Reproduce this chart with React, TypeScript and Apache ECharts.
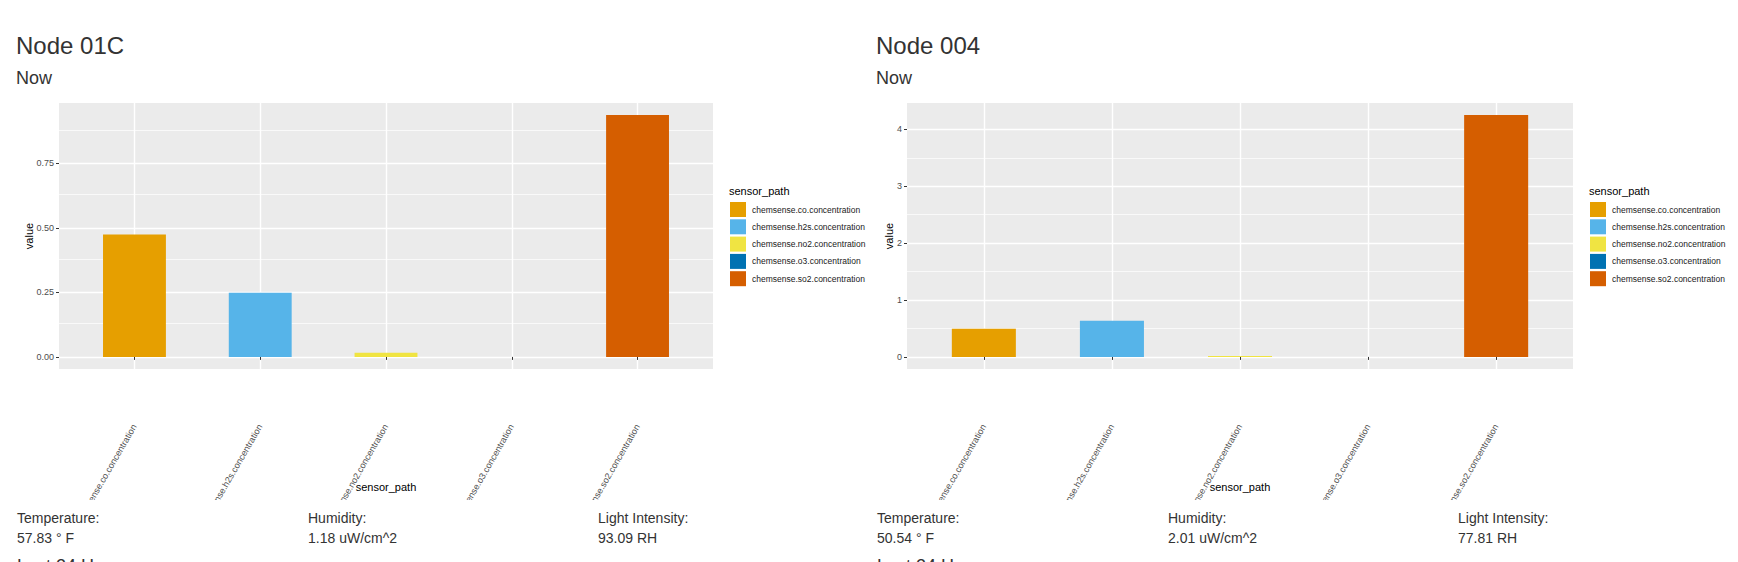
import React, { useEffect, useRef } from 'react';
import * as echarts from 'echarts';

const FONT = '"Liberation Sans", Arial, Helvetica, sans-serif';

const sensorPaths = [
    'chemsense.co.concentration',
    'chemsense.h2s.concentration',
    'chemsense.no2.concentration',
    'chemsense.o3.concentration',
    'chemsense.so2.concentration',
];
const sensorColors = ['#E69F00', '#56B4E9', '#F0E442', '#0072B2', '#D55E00'];

// Node 01C
const node01cValues = [0.474, 0.249, 0.016, 0, 0.937];
const node01cTicks = [0, 0.25, 0.5, 0.75];
const node01cMinorTicks = [0.125, 0.375, 0.625, 0.875];
const node01cReadings = ['57.83 ° F', '1.18 uW/cm^2', '93.09 RH'];

// Node 004
const node004Values = [0.494, 0.635, 0.018, 0, 4.25];
const node004Ticks = [0, 1, 2, 3, 4];
const node004MinorTicks = [0.5, 1.5, 2.5, 3.5];
const node004Readings = ['50.54 ° F', '2.01 uW/cm^2', '77.81 RH'];

const readingLabels = ['Temperature:', 'Humidity:', 'Light Intensity:'];

interface NodeChartProps {
    name: string;
    values: number[];
    ticks: number[];
    minorTicks: number[];
    decimals: number;
    left: number;
    width: number;
    titleLeft: number;
    gridLeft: number;
    gridWidth: number;
    legendLeft: number;
    valueGap: number;
}

function NodeChart(props: NodeChartProps) {
    const chartRef = useRef<HTMLDivElement | null>(null);

    useEffect(() => {
        if (!chartRef.current) return;
        const chart = echarts.init(chartRef.current, null, { renderer: 'svg' });

        const { values, ticks, minorTicks, decimals } = props;
        const top = Math.max(...values);
        // ggplot default expansion: 5% on each side
        const lo = -0.05 * top;
        const hi = 1.05 * top;
        const step = ticks[1] - ticks[0];
        const xTicks = sensorPaths.map((_, i) => i + 1);

        chart.setOption({
            animation: false,
            textStyle: { fontFamily: FONT },
            title: [
                {
                    text: props.name, left: props.titleLeft, top: 33, padding: 0,
                    textStyle: { fontSize: 24, fontWeight: 'normal', color: '#333', lineHeight: 24 },
                },
                {
                    text: 'Now', left: props.titleLeft, top: 69, padding: 0,
                    textStyle: { fontSize: 18, fontWeight: 'normal', color: '#333', lineHeight: 18 },
                },
                {
                    text: 'sensor_path', left: props.legendLeft - 1, top: 184, padding: 0,
                    textStyle: { fontSize: 11, fontWeight: 'normal', color: '#000', lineHeight: 13 },
                },
            ],
            grid: {
                left: props.gridLeft, top: 103, width: props.gridWidth, height: 266,
                show: true, backgroundColor: '#EBEBEB', borderWidth: 0,
                containLabel: false, outerBoundsMode: 'none',
            },
            legend: {
                orient: 'vertical', left: props.legendLeft, top: 202, padding: 0,
                itemWidth: 16, itemHeight: 15, itemGap: 2.3, icon: 'rect',
                selectedMode: false,
                textStyle: { fontSize: 8.5, color: '#1A1A1A', padding: [0, 0, 0, 1] },
                data: sensorPaths,
            },
            xAxis: {
                type: 'value',
                min: 0.4,
                max: 5.6,
                minInterval: 1,
                maxInterval: 1,
                axisLine: { show: false },
                axisTick: { show: true, length: 3, customValues: xTicks, lineStyle: { color: '#333', width: 1 } },
                axisLabel: {
                    customValues: xTicks, rotate: 60, margin: 56, fontSize: 9, color: '#4D4D4D',
                    formatter: (v: number) => sensorPaths[Math.round(v) - 1] ?? '',
                },
                splitLine: { show: true, lineStyle: { color: '#FFFFFF', width: 1.4 } },
                name: 'sensor_path',
                nameLocation: 'middle',
                nameGap: 112,
                nameMoveOverlap: false,
                nameTextStyle: { fontSize: 11, color: '#000' },
            },
            yAxis: {
                type: 'value',
                min: lo,
                max: hi,
                minInterval: step,
                maxInterval: step,
                axisLine: { show: false },
                axisTick: { show: true, length: 3, customValues: ticks, lineStyle: { color: '#333', width: 1 } },
                axisLabel: {
                    customValues: ticks, fontSize: 9, color: '#4D4D4D', margin: 5,
                    formatter: (v: number) => {
                        const k = v / step;
                        return Math.abs(k - Math.round(k)) < 1e-6 ? v.toFixed(decimals) : '';
                    },
                },
                splitLine: { show: true, lineStyle: { color: '#FFFFFF', width: 1.4 } },
                name: 'value',
                nameLocation: 'middle',
                nameRotate: 90,
                nameGap: props.valueGap,
                nameMoveOverlap: false,
                nameTextStyle: { fontSize: 11, color: '#000' },
            },
            series: sensorPaths.map((p, i) => ({
                type: 'bar',
                name: p,
                data: [[i + 1, values[i]]],
                barWidth: '50%',
                barGap: '-100%',
                itemStyle: { color: sensorColors[i] },
                markLine: i === 0 ? {
                    silent: true,
                    symbol: 'none',
                    z: 1,
                    label: { show: false },
                    lineStyle: { color: '#FFFFFF', width: 0.7, type: 'solid' },
                    emphasis: { disabled: true },
                    data: minorTicks.map(v => ({ yAxis: v })),
                } : undefined,
            })),
        });

        return () => {
            chart.dispose();
        };
    }, []);

    return (
        <div
            ref={chartRef}
            style={{ position: 'absolute', left: props.left, top: 0, width: props.width, height: 500, overflow: 'hidden' }}
        />
    );
}

function Readings({ left, readings }: { left: number[]; readings: string[] }) {
    return (
        <>
            {readingLabels.map((label, i) => (
                <div
                    key={label}
                    style={{ position: 'absolute', left: left[i], top: 508, fontSize: 14, lineHeight: '20px', color: '#333' }}
                >
                    <div>{label}</div>
                    <div>{readings[i]}</div>
                </div>
            ))}
            <div style={{ position: 'absolute', left: left[0], top: 556, fontSize: 18, lineHeight: '20px', color: '#333' }}>
                Last 24 Hours
            </div>
        </>
    );
}

export default function App() {
    return (
        <div
            style={{
                position: 'fixed', left: 0, top: 0, width: 1738, height: 562,
                background: '#fff', overflow: 'hidden', fontFamily: FONT,
            }}
        >
            <NodeChart
                name="Node 01C"
                values={node01cValues}
                ticks={node01cTicks}
                minorTicks={node01cMinorTicks}
                decimals={2}
                left={0}
                width={870}
                titleLeft={16}
                gridLeft={59}
                gridWidth={654}
                legendLeft={730}
                valueGap={25}
            />
            <NodeChart
                name="Node 004"
                values={node004Values}
                ticks={node004Ticks}
                minorTicks={node004MinorTicks}
                decimals={0}
                left={870}
                width={868}
                titleLeft={6}
                gridLeft={37}
                gridWidth={666}
                legendLeft={720}
                valueGap={13}
            />
            <Readings left={[17, 308, 598]} readings={node01cReadings} />
            <Readings left={[877, 1168, 1458]} readings={node004Readings} />
        </div>
    );
}
